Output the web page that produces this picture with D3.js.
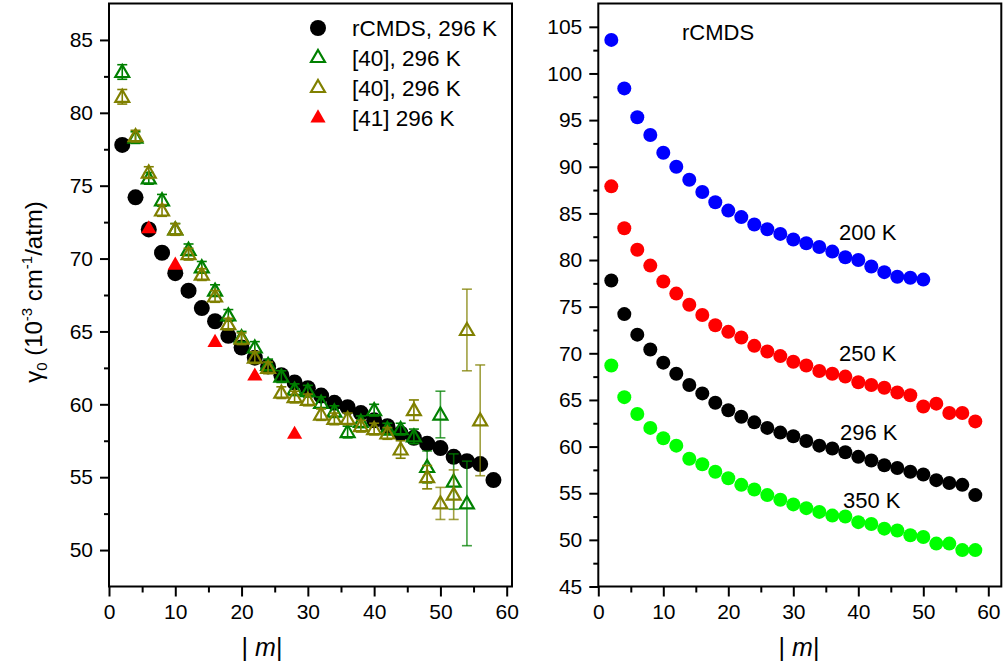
<!DOCTYPE html>
<html>
<head>
<meta charset="utf-8">
<script src="https://cdn.jsdelivr.net/npm/d3@7"></script>
<style>
  body { margin: 0; background: #fff; }
  svg { font-family: "Liberation Sans", Arial, sans-serif; }
</style>
</head>
<body>
<svg id="chart" width="1003" height="672"></svg>
<script>
// |m| values
const mAll = d3.range(2, 60, 2);      // 2..58
const m200 = d3.range(2, 52, 2);      // 2..50

// rCMDS, gamma0 in 1e-3 cm-1/atm
const rcmds296 = [77.8, 74.2, 72.0, 70.4, 69.0, 67.8, 66.6, 65.7, 64.7, 63.9, 63.2, 62.6, 62.0, 61.5, 61.1,
  60.6, 60.1, 59.8, 59.4, 58.9, 58.5, 58.0, 57.7, 57.3, 57.0, 56.4, 56.1, 55.9, 54.8];
const rcmds200 = [103.6, 98.4, 95.3, 93.4, 91.5, 90.0, 88.6, 87.3, 86.2, 85.3, 84.6, 83.8, 83.3, 82.8, 82.2,
  81.8, 81.4, 80.9, 80.3, 80.0, 79.3, 78.7, 78.2, 78.1, 77.9];
const rcmds250 = [87.9, 83.4, 81.1, 79.4, 77.7, 76.4, 75.2, 74.1, 73.0, 72.3, 71.7, 70.8, 70.2, 69.7, 69.1,
  68.7, 68.1, 67.8, 67.5, 66.9, 66.6, 66.3, 65.8, 65.5, 64.3, 64.6, 63.6, 63.6, 62.7];
const rcmds350 = [68.7, 65.3, 63.5, 62.0, 60.9, 60.1, 58.7, 58.1, 57.3, 56.6, 55.9, 55.4, 54.8, 54.3, 53.8,
  53.4, 53.0, 52.6, 52.5, 51.9, 51.7, 51.2, 51.0, 50.5, 50.3, 49.6, 49.6, 48.9, 48.9];

// [40] 296 K, two data sets (value, error)
const ref40aM = d3.range(2, 56, 2);   // 2..54
const ref40aVal = [82.8, 78.3, 75.5, 74.0, 72.0, 70.6, 69.4, 67.8, 66.1, 64.6, 63.9, 62.7, 61.9, 61.0, 60.9,
  60.1, 59.5, 58.1, 58.8, 59.6, 58.3, 58.3, 57.8, 55.7, 59.3, 54.7, 53.2];
const ref40aErr = [0.5, 0.4, 0.4, 0.4, 0.4, 0.4, 0.4, 0.4, 0.4, 0.4, 0.4, 0.4, 0.4, 0.4, 0.4,
  0.4, 0.4, 0.4, 0.4, 0.4, 0.4, 0.4, 0.5, 1.1, 1.6, 1.9, 2.9];
const ref40bM = d3.range(2, 58, 2);   // 2..56
const ref40bVal = [81.1, 78.4, 75.9, 73.3, 72.0, 70.3, 68.9, 67.4, 65.5, 64.5, 63.2, 62.5, 60.8, 60.5, 60.3,
  59.3, 59.0, 59.0, 58.5, 58.3, 58.0, 56.9, 59.6, 55.0, 53.2, 53.8, 65.1, 58.9];
const ref40bErr = [0.5, 0.4, 0.4, 0.4, 0.4, 0.4, 0.4, 0.4, 0.4, 0.4, 0.4, 0.4, 0.4, 0.4, 0.4,
  0.4, 0.4, 0.4, 0.4, 0.4, 0.4, 0.6, 0.7, 0.8, 1.1, 1.7, 2.8, 3.8];

// [41] 296 K
const ref41M = [6, 10, 16, 22, 28];
const ref41Val = [72.1, 69.6, 64.3, 62.0, 58.0];

const legendLabels = ["rCMDS, 296 K", "[40], 296 K", "[40], 296 K", "[41] 296 K"];
const tempLabels = ["200 K", "250 K", "296 K", "350 K"];

const svg = d3.select("#chart");
const zip = (xs, ys, es) => xs.map((x, i) => ({ x, y: ys[i], e: es ? es[i] : 0 }));

function drawFrame(x, y, xMinor, yMinor) {
  const [x0, x1] = x.range();
  const [y0, y1] = y.range();
  const g = svg.append("g");

  g.append("g").attr("transform", `translate(0,${y0})`)
    .call(d3.axisBottom(x).tickValues(xMinor).tickSize(6).tickFormat(""));
  g.append("g").attr("transform", `translate(${x0},0)`)
    .call(d3.axisLeft(y).tickValues(yMinor).tickSize(5).tickFormat(""));

  g.append("g").attr("transform", `translate(0,${y0})`)
    .call(d3.axisBottom(x).tickValues(d3.range(0, 61, 10)).tickSize(10).tickPadding(8).tickFormat(d3.format("d")));
  g.append("g").attr("transform", `translate(${x0},0)`)
    .call(d3.axisLeft(y).tickValues(d3.range(Math.ceil(y.domain()[0] / 5) * 5, y.domain()[1], 5)).tickSize(9).tickPadding(7).tickFormat(d3.format("d")));

  g.selectAll(".domain").remove();
  g.selectAll(".tick line").attr("stroke", "#000").attr("stroke-width", 2);
  g.selectAll(".tick text").attr("font-size", 21).attr("fill", "#000")
    .attr("font-family", '"Liberation Sans", Arial, sans-serif');

  g.append("rect").attr("x", x0).attr("y", y1).attr("width", x1 - x0).attr("height", y0 - y1)
    .attr("fill", "none").attr("stroke", "#000").attr("stroke-width", 2);
}

function mLabel(cx) {
  const t = svg.append("text").attr("x", cx).attr("y", 656).attr("text-anchor", "middle")
    .attr("font-size", 25).attr("fill", "#000");
  t.append("tspan").text("| ");
  t.append("tspan").attr("font-style", "italic").text("m");
  t.append("tspan").text("|");
}

const tri = d3.symbol(d3.symbolTriangle, 84);

// ---------- left panel ----------
const xL = d3.scaleLinear().domain([0, 60.8]).range([109, 512]);
const yL = d3.scaleLinear().domain([47.5, 87.5]).range([586.5, 3.5]);
drawFrame(xL, yL, d3.range(5, 60, 10), d3.range(50, 87.5, 5).map(v => v - 2.5).filter(v => v > 47.5));

svg.append("g").selectAll("circle").data(zip(mAll, rcmds296)).join("circle")
  .attr("cx", d => xL(d.x)).attr("cy", d => yL(d.y)).attr("r", 8).attr("fill", "#000");

function errTriangles(data, color) {
  const g = svg.append("g");
  const eb = g.selectAll("g.eb").data(data).join("g").attr("stroke", color).attr("stroke-width", 1.6)
    .attr("stroke-opacity", d => d.e > 1 ? 0.75 : 1);
  eb.append("line").attr("x1", d => xL(d.x)).attr("x2", d => xL(d.x))
    .attr("y1", d => yL(d.y + d.e)).attr("y2", d => yL(d.y - d.e));
  eb.append("line").attr("x1", d => xL(d.x) - 5).attr("x2", d => xL(d.x) + 5)
    .attr("y1", d => yL(d.y + d.e)).attr("y2", d => yL(d.y + d.e));
  eb.append("line").attr("x1", d => xL(d.x) - 5).attr("x2", d => xL(d.x) + 5)
    .attr("y1", d => yL(d.y - d.e)).attr("y2", d => yL(d.y - d.e));
  g.selectAll("path").data(data).join("path")
    .attr("d", tri).attr("transform", d => `translate(${xL(d.x)},${yL(d.y) + 1})`)
    .attr("fill", "none").attr("stroke", color).attr("stroke-width", 2.2);
}
errTriangles(zip(ref40aM, ref40aVal, ref40aErr), "#008000");
errTriangles(zip(ref40bM, ref40bVal, ref40bErr), "#808000");

svg.append("g").selectAll("path").data(zip(ref41M, ref41Val)).join("path")
  .attr("d", d3.symbol(d3.symbolTriangle, 100)).attr("transform", d => `translate(${xL(d.x)},${yL(d.y) + 1})`)
  .attr("fill", "#ff0000");

// legend
const legColors = ["#000", "#008000", "#808000", "#ff0000"];
const leg = svg.append("g").selectAll("g").data(legendLabels).join("g")
  .attr("transform", (d, i) => `translate(318,${28 + i * 30})`);
leg.each(function (d, i) {
  const g = d3.select(this);
  if (i === 0) g.append("circle").attr("r", 8).attr("fill", "#000");
  else if (i === 3) g.append("path").attr("d", d3.symbol(d3.symbolTriangle, 100)).attr("fill", legColors[i]);
  else g.append("path").attr("d", tri).attr("fill", "none").attr("stroke", legColors[i]).attr("stroke-width", 2.2);
  g.append("text").attr("x", 34).attr("y", 8).attr("font-size", 22.5).attr("fill", "#000").text(d);
});

// y label
const yl = svg.append("text").attr("transform", "translate(42,292) rotate(-90)")
  .attr("text-anchor", "middle").attr("font-size", 24).attr("fill", "#000");
yl.append("tspan").text("γ");
yl.append("tspan").attr("font-size", 15).attr("dy", 5).text("0");
yl.append("tspan").attr("dy", -5).text(" (10");
yl.append("tspan").attr("font-size", 15).attr("dy", -10).text("-3");
yl.append("tspan").attr("dy", 10).text(" cm");
yl.append("tspan").attr("font-size", 15).attr("dy", -10).text("-1");
yl.append("tspan").attr("dy", 10).text("/atm)");

mLabel(262);

// ---------- right panel ----------
const xR = d3.scaleLinear().domain([0, 62]).range([598.3, 1001.3]);
const yR = d3.scaleLinear().domain([45, 107.5]).range([586.5, 3.5]);
drawFrame(xR, yR, d3.range(5, 61, 10), d3.range(47.5, 107.5, 5));

const rightSeries = [
  { m: m200, v: rcmds200, c: "#0000ff" },
  { m: mAll, v: rcmds250, c: "#ff0000" },
  { m: mAll, v: rcmds296, c: "#000000" },
  { m: mAll, v: rcmds350, c: "#00ff00" }
];
rightSeries.forEach(s => {
  svg.append("g").selectAll("circle").data(zip(s.m, s.v)).join("circle")
    .attr("cx", d => xR(d.x)).attr("cy", d => yR(d.y)).attr("r", 7).attr("fill", s.c);
});

svg.append("text").attr("x", 682).attr("y", 40).attr("font-size", 22).attr("fill", "#000").text("rCMDS");
const tempY = [240, 361, 440, 508];
const tempX = [839, 839, 840, 843];
svg.append("g").selectAll("text").data(tempLabels).join("text")
  .attr("x", (d, i) => tempX[i]).attr("y", (d, i) => tempY[i])
  .attr("font-size", 22).attr("fill", "#000").text(d => d);

mLabel(799);
</script>
</body>
</html>
